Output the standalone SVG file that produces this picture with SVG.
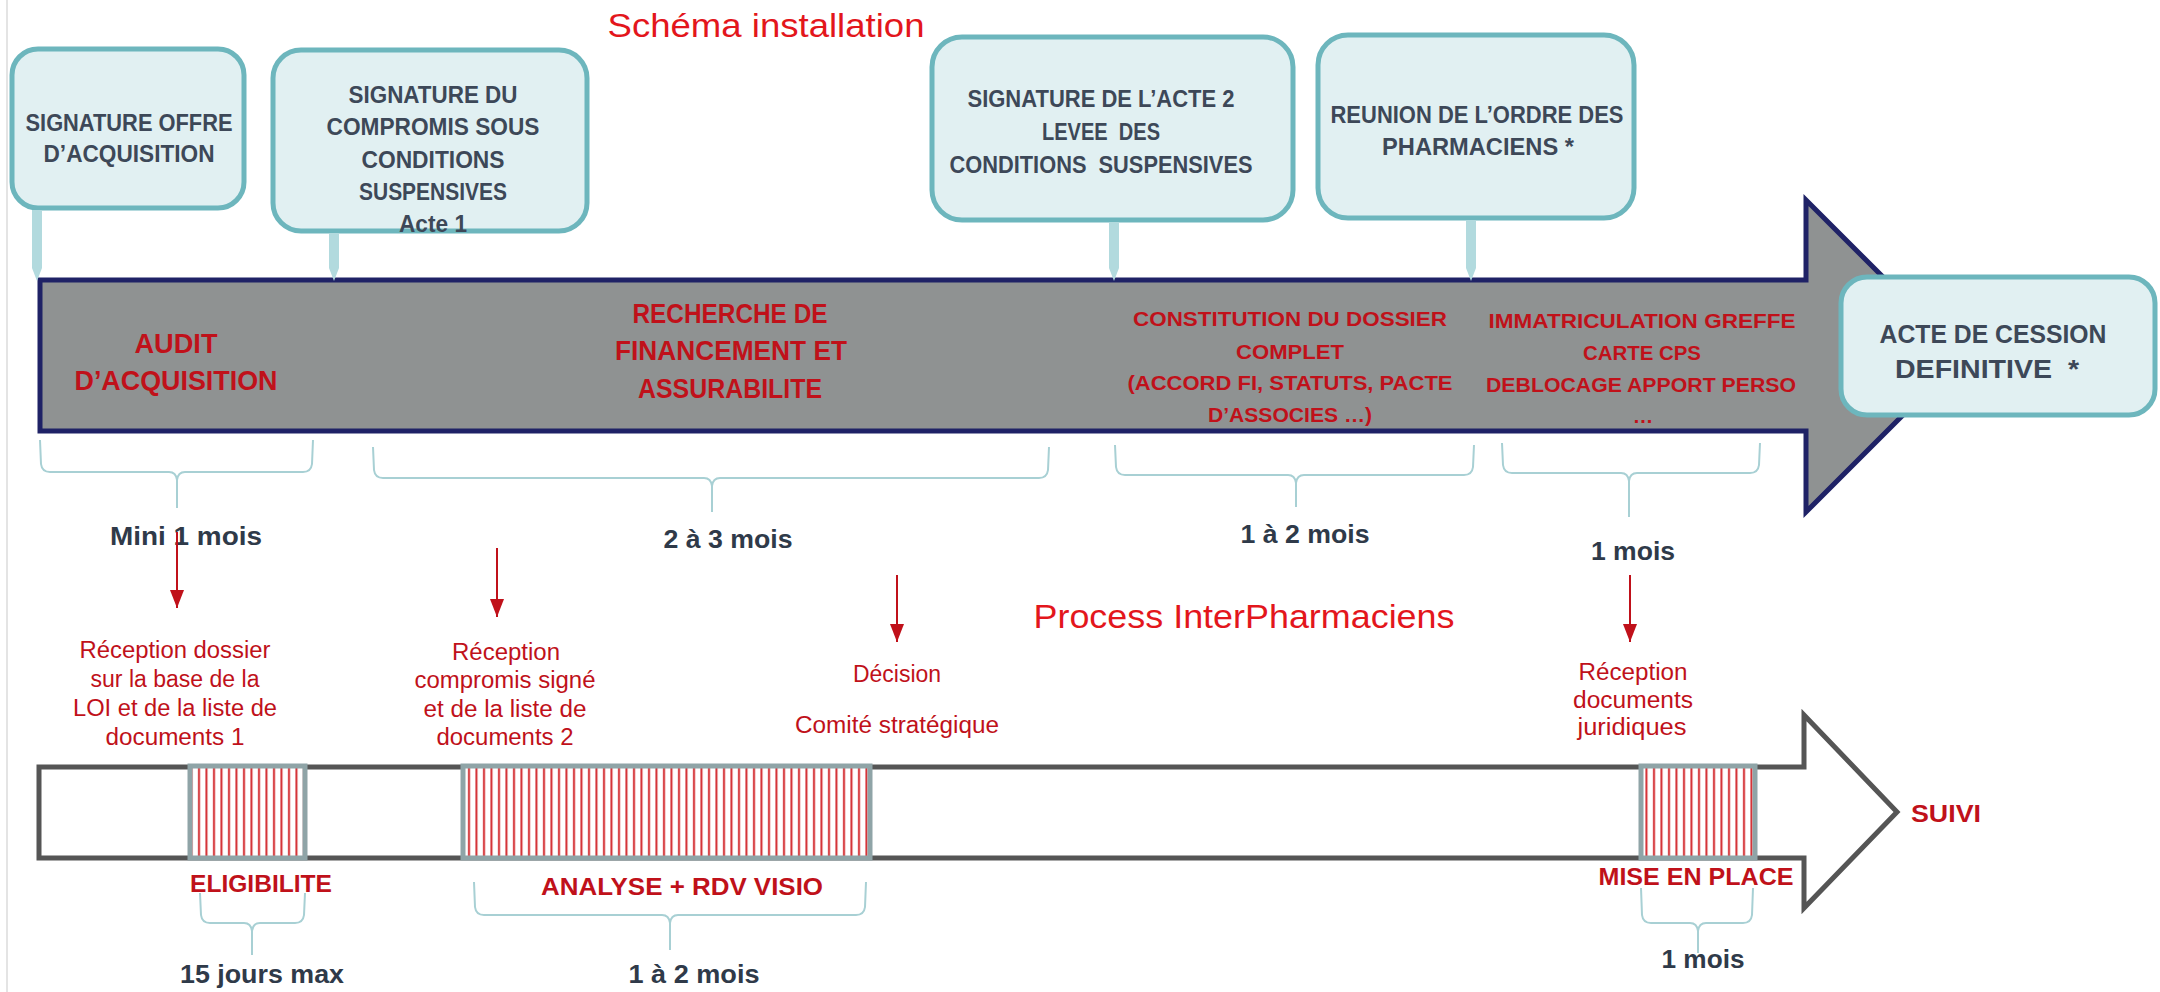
<svg xmlns="http://www.w3.org/2000/svg" width="2160" height="992" viewBox="0 0 2160 992">
<style>
text{font-family:"Liberation Sans",Arial,sans-serif;text-anchor:middle}
.bx{font-weight:bold;font-size:23.5px;fill:#3d4858}
.bxl{font-weight:bold;font-size:26px;fill:#3d4858}
.rd{font-weight:bold;font-size:27px;fill:#c0111a}
.rs{font-weight:bold;font-size:20.5px;fill:#c0111a}
.dur{font-weight:bold;font-size:26.5px;fill:#2f3a49}
.lr{font-size:23.5px;fill:#c0111a}
.lb{font-weight:bold;font-size:24.5px;fill:#c0111a}
.tt{font-size:32.5px;fill:#e3161c}
.box{fill:#e1f0f2;stroke:#6db6bd;stroke-width:5}
.tc{fill:#b2dade}
.brace{fill:none;stroke:#a8d0d4;stroke-width:2}
.red{stroke:#c0111a;stroke-width:2;fill:none;marker-end:url(#rh)}
.blk{fill:url(#hatch);stroke:#8fa4a7;stroke-width:5}
</style>
<defs>
<pattern id="hatch" patternUnits="userSpaceOnUse" x="0" y="0" width="7.5" height="10">
<rect width="7.5" height="10" fill="#ffffff"/>
<rect x="3" width="2" height="10" fill="#d32a2f"/>
</pattern>
<marker id="rh" markerUnits="userSpaceOnUse" markerWidth="18" markerHeight="14" refX="18" refY="7" orient="auto">
<path d="M0,0 L18,7 L0,14 Z" fill="#c0111a"/>
</marker>
</defs>
<rect width="2160" height="992" fill="#ffffff"/>
<line x1="7" y1="0" x2="7" y2="992" stroke="#e4e4e4" stroke-width="2"/>

<g id="title">
<text class="tt" x="766" y="37" textLength="317" lengthAdjust="spacingAndGlyphs">Schéma installation</text>
</g>

<g id="main-arrow">
<path d="M40,280 L1806,280 L1806,200 L1962,356 L1806,512 L1806,431 L40,431 Z" fill="#8f9292" stroke="#1f2266" stroke-width="5" stroke-linejoin="miter"/>
</g>
<g id="phase-audit">
<text class="rd" x="176" y="353" textLength="83" lengthAdjust="spacingAndGlyphs">AUDIT</text>
<text class="rd" x="176" y="390" textLength="203" lengthAdjust="spacingAndGlyphs">D’ACQUISITION</text>
</g>
<g id="phase-financement">
<text class="rd" x="730" y="323" textLength="195" lengthAdjust="spacingAndGlyphs">RECHERCHE DE</text>
<text class="rd" x="731" y="360" textLength="232" lengthAdjust="spacingAndGlyphs">FINANCEMENT ET</text>
<text class="rd" x="730" y="398" textLength="184" lengthAdjust="spacingAndGlyphs">ASSURABILITE</text>
</g>
<g id="phase-constitution">
<text class="rs" x="1290" y="326" textLength="314" lengthAdjust="spacingAndGlyphs">CONSTITUTION DU DOSSIER</text>
<text class="rs" x="1290" y="359" textLength="108" lengthAdjust="spacingAndGlyphs">COMPLET</text>
<text class="rs" x="1290" y="390" textLength="325" lengthAdjust="spacingAndGlyphs">(ACCORD FI, STATUTS, PACTE</text>
<text class="rs" x="1290" y="422" textLength="164" lengthAdjust="spacingAndGlyphs">D’ASSOCIES …)</text>
</g>
<g id="phase-immatriculation">
<text class="rs" x="1642" y="328" textLength="307" lengthAdjust="spacingAndGlyphs">IMMATRICULATION GREFFE</text>
<text class="rs" x="1642" y="360" textLength="118" lengthAdjust="spacingAndGlyphs">CARTE CPS</text>
<text class="rs" x="1641" y="392" textLength="310" lengthAdjust="spacingAndGlyphs">DEBLOCAGE APPORT PERSO</text>
<text class="rs" x="1643" y="423">…</text>
</g>

<g id="box-offre">
<rect class="box" x="12" y="49" width="232" height="159" rx="26"/>
<text class="bx" x="129" y="131" textLength="207" lengthAdjust="spacingAndGlyphs">SIGNATURE OFFRE</text>
<text class="bx" x="129" y="162" textLength="171" lengthAdjust="spacingAndGlyphs">D’ACQUISITION</text>
</g>
<g id="box-compromis">
<rect class="box" x="273" y="50" width="314" height="181" rx="28"/>
<text class="bx" x="433" y="103" textLength="169" lengthAdjust="spacingAndGlyphs">SIGNATURE DU</text>
<text class="bx" x="433" y="135" textLength="213" lengthAdjust="spacingAndGlyphs">COMPROMIS SOUS</text>
<text class="bx" x="433" y="168" textLength="143" lengthAdjust="spacingAndGlyphs">CONDITIONS</text>
<text class="bx" x="433" y="200" textLength="148" lengthAdjust="spacingAndGlyphs">SUSPENSIVES</text>
<text class="bx" x="433" y="232" textLength="68" lengthAdjust="spacingAndGlyphs">Acte 1</text>
</g>
<g id="box-acte2">
<rect class="box" x="932" y="37" width="361" height="183" rx="30"/>
<text class="bx" x="1101" y="107" textLength="267" lengthAdjust="spacingAndGlyphs">SIGNATURE DE L’ACTE 2</text>
<text class="bx" x="1101" y="140" textLength="118" lengthAdjust="spacingAndGlyphs" xml:space="preserve">LEVEE  DES</text>
<text class="bx" x="1101" y="173" textLength="303" lengthAdjust="spacingAndGlyphs" xml:space="preserve">CONDITIONS  SUSPENSIVES</text>
</g>
<g id="box-ordre">
<rect class="box" x="1318" y="35" width="316" height="183" rx="30"/>
<text class="bx" x="1477" y="123" textLength="293" lengthAdjust="spacingAndGlyphs">REUNION DE L’ORDRE DES</text>
<text class="bx" x="1478" y="155" textLength="192" lengthAdjust="spacingAndGlyphs">PHARMACIENS *</text>
</g>
<g id="box-cession">
<rect class="box" x="1841" y="277" width="314" height="138" rx="26"/>
<text class="bxl" x="1993" y="343" textLength="227" lengthAdjust="spacingAndGlyphs">ACTE DE CESSION</text>
<text class="bxl" x="1987" y="378" textLength="184" lengthAdjust="spacingAndGlyphs" xml:space="preserve">DEFINITIVE  *</text>
</g>

<g id="durations-top">
<text class="dur" x="186" y="545" textLength="152" lengthAdjust="spacingAndGlyphs">Mini 1 mois</text>
<text class="dur" x="728" y="548" textLength="129" lengthAdjust="spacingAndGlyphs">2 à 3 mois</text>
<text class="dur" x="1305" y="543" textLength="129" lengthAdjust="spacingAndGlyphs">1 à 2 mois</text>
<text class="dur" x="1633" y="560" textLength="84" lengthAdjust="spacingAndGlyphs">1 mois</text>
</g>

<g id="subtitle">
<text class="tt" x="1244" y="628" textLength="421" lengthAdjust="spacingAndGlyphs">Process InterPharmaciens</text>
</g>

<g id="step-reception-dossier">
<text class="lr" x="175" y="658" textLength="191" lengthAdjust="spacingAndGlyphs">Réception dossier</text>
<text class="lr" x="175" y="687" textLength="169" lengthAdjust="spacingAndGlyphs">sur la base de la</text>
<text class="lr" x="175" y="716" textLength="204" lengthAdjust="spacingAndGlyphs">LOI et de la liste de</text>
<text class="lr" x="175" y="745" textLength="139" lengthAdjust="spacingAndGlyphs">documents 1</text>
</g>
<g id="step-reception-compromis">
<text class="lr" x="506" y="660" textLength="108" lengthAdjust="spacingAndGlyphs">Réception</text>
<text class="lr" x="505" y="688" textLength="181" lengthAdjust="spacingAndGlyphs">compromis signé</text>
<text class="lr" x="505" y="717" textLength="163" lengthAdjust="spacingAndGlyphs">et de la liste de</text>
<text class="lr" x="505" y="745" textLength="137" lengthAdjust="spacingAndGlyphs">documents 2</text>
</g>
<g id="step-decision">
<text class="lr" x="897" y="682" textLength="88" lengthAdjust="spacingAndGlyphs">Décision</text>
<text class="lr" x="897" y="733" textLength="204" lengthAdjust="spacingAndGlyphs">Comité stratégique</text>
</g>
<g id="step-juridique">
<text class="lr" x="1633" y="680" textLength="109" lengthAdjust="spacingAndGlyphs">Réception</text>
<text class="lr" x="1633" y="708" textLength="120" lengthAdjust="spacingAndGlyphs">documents</text>
<text class="lr" x="1632" y="735" textLength="109" lengthAdjust="spacingAndGlyphs">juridiques</text>
</g>

<g id="lower-arrow">
<path d="M39,767 L1804,767 L1804,715 L1897,812 L1804,908 L1804,858 L39,858 Z" fill="#ffffff" stroke="#555555" stroke-width="5" stroke-linejoin="miter"/>
</g>
<g id="block-eligibilite">
<rect class="blk" x="190" y="766" width="115" height="92"/>
<text class="lb" x="261" y="892" textLength="142" lengthAdjust="spacingAndGlyphs">ELIGIBILITE</text>
</g>
<g id="block-analyse">
<rect class="blk" x="463" y="766" width="407" height="92"/>
<text class="lb" x="682" y="895" textLength="282" lengthAdjust="spacingAndGlyphs">ANALYSE + RDV VISIO</text>
</g>
<g id="block-mise-en-place">
<rect class="blk" x="1641" y="766" width="114" height="92"/>
<text class="lb" x="1696" y="885" textLength="195" lengthAdjust="spacingAndGlyphs">MISE EN PLACE</text>
</g>
<g id="suivi">
<text class="lb" x="1946" y="822" textLength="70" lengthAdjust="spacingAndGlyphs">SUIVI</text>
</g>

<g id="durations-bottom">
<text class="dur" x="262" y="983" textLength="164" lengthAdjust="spacingAndGlyphs">15 jours max</text>
<text class="dur" x="694" y="983" textLength="131" lengthAdjust="spacingAndGlyphs">1 à 2 mois</text>
<text class="dur" x="1703" y="968" textLength="83" lengthAdjust="spacingAndGlyphs">1 mois</text>
</g>

<g id="connectors">
<polygon class="tc" points="32,210 42,210 42,268 37,281 32,268"/>
<polygon class="tc" points="329,233 339,233 339,268 334,281 329,268"/>
<polygon class="tc" points="1109,222 1119,222 1119,268 1114,281 1109,268"/>
<polygon class="tc" points="1466,220 1476,220 1476,268 1471,281 1466,268"/>
<path class="red" d="M177,532 L177,608"/>
<path class="red" d="M497,548 L497,617"/>
<path class="red" d="M897,575 L897,642"/>
<path class="red" d="M1630,575 L1630,642"/>
<path class="brace" d="M40,440 L41,464 Q42,472 50,472 L169,472 Q176,472 177,480 L177,508 M177,480 Q178,472 185,472 L303,472 Q311,472 312,464 L313,440"/>
<path class="brace" d="M373,447 L374,470 Q375,478 383,478 L704,478 Q711,478 712,486 L712,512 M712,486 Q713,478 720,478 L1039,478 Q1047,478 1048,470 L1049,447"/>
<path class="brace" d="M1115,445 L1116,467 Q1117,475 1125,475 L1288,475 Q1295,475 1296,483 L1296,507 M1296,483 Q1297,475 1304,475 L1464,475 Q1472,475 1473,467 L1474,445"/>
<path class="brace" d="M1502,443 L1503,465 Q1504,473 1512,473 L1621,473 Q1628,473 1629,481 L1629,517 M1629,481 Q1630,473 1637,473 L1750,473 Q1758,473 1759,465 L1760,443"/>
<path class="brace" d="M200,893 L201,915 Q202,923 210,923 L244,923 Q251,923 252,931 L252,955 M252,931 Q253,923 260,923 L295,923 Q303,923 304,915 L305,893"/>
<path class="brace" d="M474,882 L475,907 Q476,915 484,915 L662,915 Q669,915 670,923 L670,950 M670,923 Q671,915 678,915 L856,915 Q864,915 865,907 L866,882"/>
<path class="brace" d="M1641,888 L1642,915 Q1643,923 1651,923 L1690,923 Q1697,923 1698,931 L1698,953 M1698,931 Q1699,923 1706,923 L1743,923 Q1751,923 1752,915 L1753,888"/>
</g>
</svg>
